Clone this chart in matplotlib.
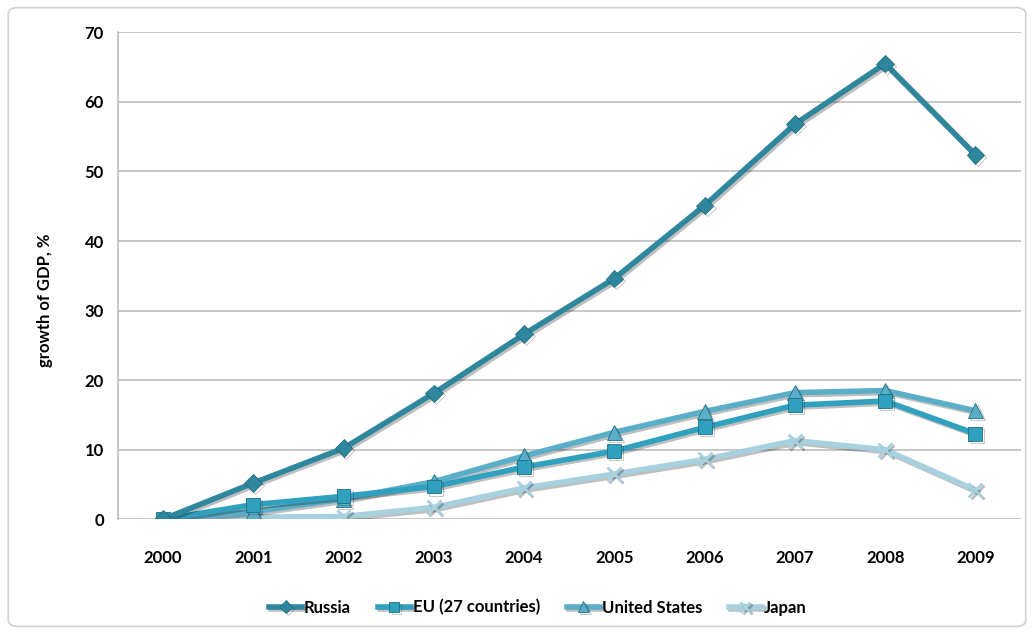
import matplotlib
matplotlib.use("Agg")
import matplotlib.pyplot as plt
import matplotlib.patheffects as pe
from matplotlib.patches import FancyBboxPatch

years = ["2000", "2001", "2002", "2003", "2004", "2005", "2006", "2007", "2008", "2009"]
russia = [0, 5.2, 10.2, 18.1, 26.6, 34.6, 45.1, 56.8, 65.5, 52.4]
eu = [0, 2.1, 3.3, 4.7, 7.5, 9.8, 13.2, 16.4, 17.0, 12.3]
usa = [0, 1.1, 2.9, 5.4, 9.1, 12.5, 15.5, 18.2, 18.5, 15.6]
japan = [0, 0.3, 0.4, 1.7, 4.5, 6.5, 8.6, 11.3, 10.0, 4.2]

series = [
    ("Russia", russia, "#2f879e", "D", 9),
    ("EU (27 countries)", eu, "#2fa0bd", "s", 10),
    ("United States", usa, "#5aaec8", "^", 11),
    ("Japan", japan, "#a8d1df", "x", 10),
]

plt.rcParams["font.family"] = ["Lato", "DejaVu Sans"]
plt.rcParams["font.weight"] = "bold"

fig = plt.figure(figsize=(10.34, 6.34), dpi=100)
frame = FancyBboxPatch((0.008, 0.012), 0.984, 0.976, boxstyle="round,pad=0,rounding_size=0.01",
                       transform=fig.transFigure, facecolor="white", edgecolor="#d0d0d0", lw=1.2, zorder=-5)
fig.patches.append(frame)
ax = fig.add_axes([0.114, 0.181, 0.873, 0.768])
ax.patch.set_alpha(0)

x = list(range(len(years)))
shadow = [pe.SimpleLineShadow(offset=(1.5, -1.5), alpha=0.25), pe.Normal()]
for name, vals, color, marker, ms in reversed(series):
    ax.plot(x, vals, color=color, lw=4, marker=marker, markersize=ms,
            markeredgewidth=2 if marker == "x" else 0.6,
            markeredgecolor=color if marker == "x" else "#1f6f84",
            markerfacecolor=color, label=name, path_effects=shadow, zorder=3)

ax.set_xlim(-0.5, len(years) - 0.5)
ax.set_ylim(0, 70)
ax.set_yticks(range(0, 71, 10))
ax.set_xticks(x)
ax.set_xticklabels(years)
ax.yaxis.grid(True, color="#bdbdbd", lw=1.2)
ax.set_axisbelow(True)
for s in ["top", "right", "bottom"]:
    ax.spines[s].set_visible(False)
ax.spines["left"].set_color("#bdbdbd")
ax.spines["left"].set_linewidth(1.2)
ax.tick_params(axis="both", length=0, labelsize=12, pad=10)
ax.tick_params(axis="x", pad=22)
ax.set_ylabel("growth of GDP, %", fontsize=12, fontweight="bold")
ax.yaxis.set_label_coords(-0.072, 0.45)

handles, labels = ax.get_legend_handles_labels()
fig.legend(handles[::-1], labels[::-1], loc="center", bbox_to_anchor=(0.52, 0.042), ncol=4,
           frameon=False, fontsize=12, handlelength=2.0, handletextpad=0.1, columnspacing=1.6,
           markerscale=0.7)

fig.savefig("out.png", dpi=100)
